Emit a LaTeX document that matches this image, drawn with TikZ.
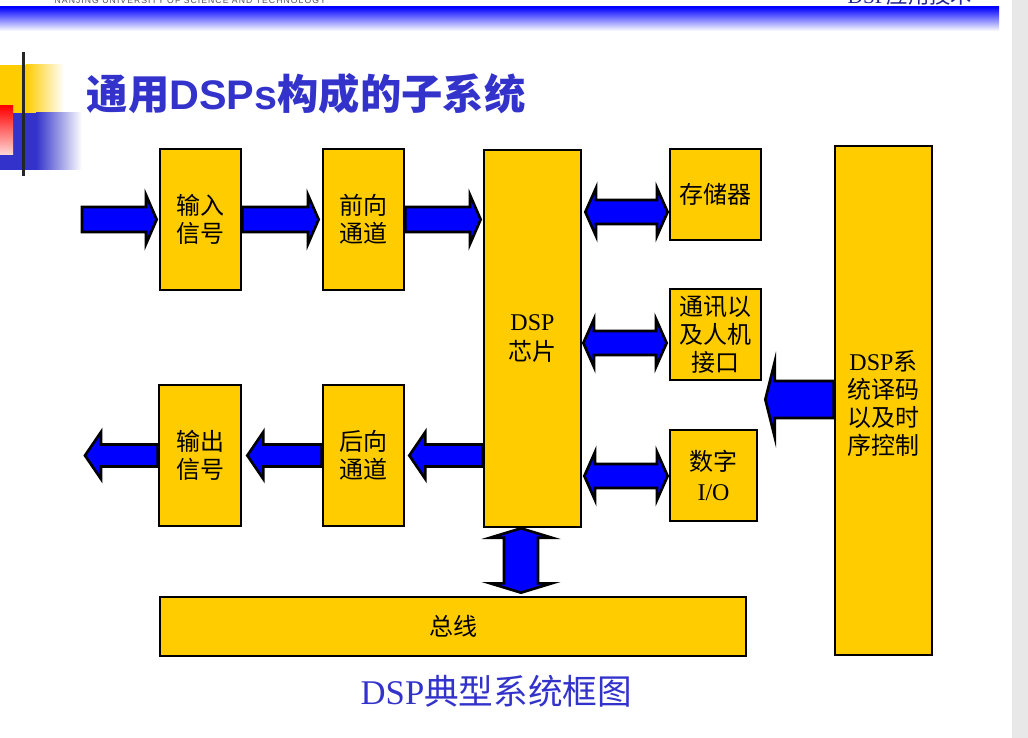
\documentclass[tikz,border=0pt]{standalone}
\usepackage{fontspec}
\setmainfont{Liberation Serif}
\setsansfont{Liberation Sans}
\newfontfamily\cjk{Noto Sans CJK SC}
\usetikzlibrary{calc,fit}

\definecolor{boxyellow}{HTML}{FFCC00}
\definecolor{arrowblue}{HTML}{0000FF}
\definecolor{titleblue}{HTML}{3333CC}
\definecolor{headgray}{HTML}{555555}
\definecolor{edgegray}{HTML}{E8E8E8}

% block arrow with one head: name, tail, tip, shaft half width, head half width, head length
\newcommand{\singlearrow}[6]{%
  \coordinate (#1-t) at (#2);
  \coordinate (#1-p) at (#3);
  \coordinate (#1-h) at ($(#1-p)!#6!(#1-t)$);
  \draw[blockarrow] ($(#1-t)!#4!90:(#1-p)$) -- ($(#1-h)!#4!90:(#1-p)$)
    -- ($(#1-h)!#5!90:(#1-p)$) -- (#1-p) -- ($(#1-h)!#5!-90:(#1-p)$)
    -- ($(#1-h)!#4!-90:(#1-p)$) -- ($(#1-t)!#4!-90:(#1-p)$) -- cycle;
}
% block arrow with heads at both ends: name, end a, end b, shaft half width, head half width, head length
\newcommand{\doublearrow}[6]{%
  \coordinate (#1-a) at (#2);
  \coordinate (#1-b) at (#3);
  \coordinate (#1-ha) at ($(#1-a)!#6!(#1-b)$);
  \coordinate (#1-hb) at ($(#1-b)!#6!(#1-a)$);
  \draw[blockarrow] (#1-a) -- ($(#1-ha)!#5!90:(#1-b)$) -- ($(#1-ha)!#4!90:(#1-b)$)
    -- ($(#1-hb)!#4!90:(#1-b)$) -- ($(#1-hb)!#5!90:(#1-b)$) -- (#1-b)
    -- ($(#1-hb)!#5!-90:(#1-b)$) -- ($(#1-hb)!#4!-90:(#1-b)$)
    -- ($(#1-ha)!#4!-90:(#1-b)$) -- ($(#1-ha)!#5!-90:(#1-b)$) -- cycle;
}

\tikzset{
  box/.style={draw=black, fill=boxyellow, line width=2pt, inner sep=0pt},
  lbl/.style={align=center, inner sep=0pt, font=\cjk\fontsize{18}{21}\selectfont},
  blockarrow/.style={draw=black, fill=arrowblue, line width=2pt},
}

\begin{document}
\begin{tikzpicture}[x=0.75pt,y=-0.75pt]
\useasboundingbox (0,0) rectangle (1028,738);
\clip (0,0) rectangle (1028,738);

% page frame: grey margin and header band
\fill[edgegray] (1012,0) rectangle (1028,738);
\shade[top color=blue, middle color=blue!30, bottom color=white] (0,7) rectangle (999,31);
\node[anchor=base west, text=headgray,
  font=\sffamily\fontsize{6.5}{6.5}\selectfont\addfontfeature{LetterSpace=12}] (uni) at (50,3.5)
  {NANJING UNIVERSITY OF SCIENCE AND TECHNOLOGY};
\node[anchor=base west, text=titleblue!70!black, font=\fontsize{16}{16}\selectfont]
  (course) at (843,4) {DSP{\cjk 应用技术}};

% corner ornament
\fill[boxyellow] (0,65) rectangle (26,113);
\shade[left color=boxyellow, right color=white] (26,65) rectangle (64,113);
\fill[titleblue] (0,113) rectangle (36,170);
\shade[left color=titleblue, right color=white] (36,113) rectangle (82,170);
\shade[top color=red, bottom color=red!15] (0,106) rectangle (13,155);
\fill[black!85] (21.5,52) rectangle (25,176);

% title and caption
\node[anchor=base west, text=titleblue, font=\fontsize{31}{31}\selectfont] (title) at (82,110)
  {\cjk\bfseries 通用{\sffamily\bfseries DSPs}构成的子系统};
\node[anchor=base west, text=titleblue, font=\fontsize{26}{26}\selectfont] (cap) at (356,704)
  {DSP{\cjk 典型系统框图}};

% blocks
\node[box, fit={(160,149) (241,290)}] (inp) {};
\node[box, fit={(323,149) (404,290)}] (fwd) {};
\node[box, fit={(484,150) (581,527)}] (dsp) {};
\node[box, fit={(670,149) (761,240)}] (mem) {};
\node[box, fit={(670,289) (761,380)}] (com) {};
\node[box, fit={(670,430) (757,521)}] (dio) {};
\node[box, fit={(835,146) (932,655)}] (ctl) {};
\node[box, fit={(159,385) (241,526)}] (outp) {};
\node[box, fit={(323,385) (404,526)}] (bwd) {};
\node[box, fit={(160,597) (746,656)}] (bus) {};

% block captions
\node[lbl] (inp-t) at (inp) {输入\\信号};
\node[lbl] (fwd-t) at (fwd) {前向\\通道};
\node[lbl] (dsp-t) at (dsp) {{\rmfamily DSP}\\[2pt]芯片};
\node[lbl] (mem-t) at (mem) {存储器};
\node[lbl] (com-t) at (com) {通讯以\\及人机\\接口};
\node[lbl] (dio-t) at (dio) {数字\\[2pt]{\rmfamily I/O}};
\node[lbl] (ctl-t) at ($(ctl)+(0,3)$) {{\rmfamily DSP}系\\统译码\\以及时\\序控制};
\node[lbl] (outp-t) at (outp) {输出\\信号};
\node[lbl] (bwd-t) at (bwd) {后向\\通道};
\node[lbl] (bus-t) at (bus) {总线};

% helper rows and column for the connectors
\coordinate (src) at (82,219.5);
\coordinate (dst) at (85,455.5);
\coordinate (r1) at (0,212);
\coordinate (r2) at (0,343);
\coordinate (r3) at (0,476);
\coordinate (r4) at (0,399.5);
\coordinate (cx) at (521,0);

% forward signal path
\singlearrow{ain}{src}{$(inp.west)+(-2,0)$}{9.4pt}{18.4pt}{8pt}
\singlearrow{afw}{inp.east}{$(fwd.west)+(-3,0)$}{9.4pt}{18.4pt}{8pt}
\singlearrow{adsp}{fwd.east}{$(dsp.west |- fwd.west)+(-2,0)$}{9.4pt}{18.4pt}{8pt}

% backward signal path
\singlearrow{abw}{dsp.west |- bwd.east}{$(bwd.east)+(4,0)$}{8.2pt}{17.6pt}{12pt}
\singlearrow{aout}{bwd.west}{$(outp.east)+(5,0)$}{8.2pt}{17.6pt}{12pt}
\singlearrow{aext}{outp.west}{dst}{8.2pt}{17.6pt}{12pt}

% peripherals
\doublearrow{amem}{$(dsp.east |- r1)+(3,0)$}{$(mem.west |- r1)+(-1,0)$}{9pt}{18pt}{8pt}
\doublearrow{acom}{$(dsp.east |- r2)+(1,0)$}{$(com.west |- r2)+(-2,0)$}{9pt}{18pt}{8pt}
\doublearrow{adio}{$(dsp.east |- r3)+(2,0)$}{$(dio.west |- r3)+(-1,0)$}{9pt}{18pt}{8pt}
\singlearrow{actl}{ctl.west |- r4}{$(com.east |- r4)+(3,0)$}{13.9pt}{28pt}{7pt}
\doublearrow{abus}{dsp.south -| cx}{$(bus.north -| cx)+(0,-3)$}{12.75pt}{23pt}{7pt}

\end{tikzpicture}
\end{document}
